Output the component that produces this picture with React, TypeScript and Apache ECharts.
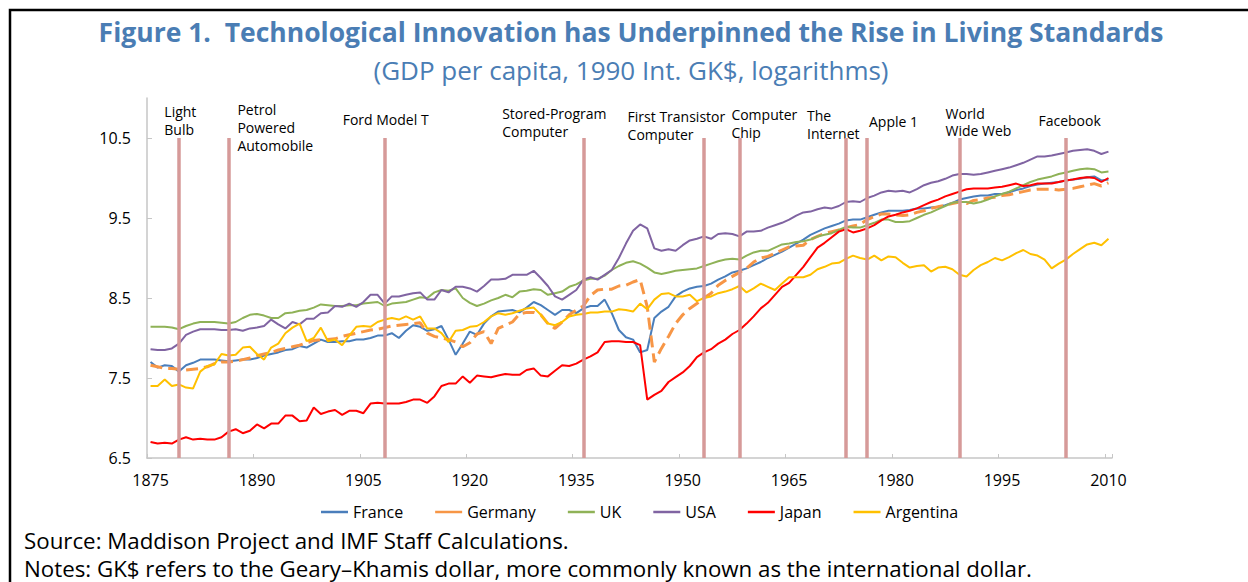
import React, { useEffect, useRef } from "react";
import * as echarts from "echarts";

const years: string[] = Array.from({ length: 136 }, (_, i) => String(1875 + i));

const france = [
  7.70, 7.63, 7.66, 7.65, 7.58, 7.66, 7.69, 7.73, 7.73, 7.73,
  7.72, 7.71, 7.72, 7.73, 7.73, 7.75, 7.78, 7.80, 7.82, 7.85,
  7.86, 7.90, 7.88, 7.93, 7.98, 7.95, 7.95, 7.96, 7.96, 7.98,
  7.98, 8.00, 8.03, 8.03, 8.06, 8.00, 8.09, 8.16, 8.14, 8.09,
  8.11, 8.15, 7.98, 7.79, 7.93, 8.08, 8.04, 8.18, 8.27, 8.33,
  8.34, 8.35, 8.32, 8.38, 8.45, 8.41, 8.35, 8.29, 8.35, 8.35,
  8.31, 8.37, 8.40, 8.40, 8.48, 8.31, 8.10, 8.01, 7.98, 7.82,
  7.85, 8.25, 8.33, 8.39, 8.52, 8.58, 8.62, 8.64, 8.65, 8.68,
  8.73, 8.77, 8.82, 8.84, 8.87, 8.91, 8.95, 9.00, 9.04, 9.08,
  9.13, 9.18, 9.23, 9.29, 9.33, 9.37, 9.40, 9.43, 9.47, 9.48,
  9.48, 9.51, 9.54, 9.57, 9.59, 9.59, 9.59, 9.60, 9.62, 9.62,
  9.63, 9.64, 9.66, 9.69, 9.73, 9.75, 9.77, 9.78, 9.78, 9.80,
  9.80, 9.82, 9.85, 9.87, 9.90, 9.92, 9.93, 9.94, 9.95, 9.97,
  9.98, 9.99, 10.01, 10.02, 9.97, 9.98,
];

const germany = [
  7.66, 7.64, 7.62, 7.62, 7.61, 7.60, 7.61, 7.62, 7.64, 7.68,
  7.70, 7.70, 7.71, 7.73, 7.75, 7.78, 7.80, 7.82, 7.85, 7.87,
  7.89, 7.91, 7.94, 7.97, 7.98, 7.98, 7.99, 8.02, 8.04, 8.06,
  8.08, 8.10, 8.11, 8.13, 8.15, 8.16, 8.17, 8.18, 8.19, 8.06,
  8.02, 8.00, 7.98, 7.95, 7.89, 7.94, 8.05, 8.08, 7.93, 8.12,
  8.16, 8.20, 8.30, 8.32, 8.32, 8.29, 8.18, 8.12, 8.20, 8.29,
  8.35, 8.40, 8.53, 8.60, 8.61, 8.61, 8.65, 8.66, 8.70, 8.73,
  8.39, 7.70, 7.87, 8.02, 8.18, 8.29, 8.37, 8.43, 8.50, 8.56,
  8.66, 8.72, 8.77, 8.82, 8.87, 8.95, 9.00, 9.02, 9.06, 9.10,
  9.14, 9.15, 9.16, 9.23, 9.27, 9.31, 9.33, 9.35, 9.38, 9.40,
  9.42, 9.48, 9.52, 9.55, 9.55, 9.54, 9.53, 9.54, 9.57, 9.59,
  9.62, 9.64, 9.66, 9.68, 9.70, 9.68, 9.72, 9.73, 9.75, 9.76,
  9.78, 9.79, 9.81, 9.83, 9.85, 9.86, 9.86, 9.86, 9.85, 9.86,
  9.87, 9.89, 9.91, 9.93, 9.90, 9.94,
];

const uk = [
  8.14, 8.14, 8.14, 8.13, 8.11, 8.15, 8.18, 8.20, 8.20, 8.20,
  8.19, 8.18, 8.20, 8.25, 8.29, 8.30, 8.28, 8.25, 8.25, 8.31,
  8.32, 8.34, 8.35, 8.38, 8.42, 8.41, 8.40, 8.40, 8.41, 8.41,
  8.43, 8.44, 8.45, 8.40, 8.43, 8.44, 8.45, 8.48, 8.51, 8.50,
  8.57, 8.60, 8.59, 8.62, 8.50, 8.44, 8.40, 8.43, 8.47, 8.50,
  8.54, 8.51, 8.58, 8.59, 8.61, 8.60, 8.54, 8.56, 8.58, 8.64,
  8.67, 8.72, 8.74, 8.74, 8.78, 8.85, 8.90, 8.94, 8.96, 8.93,
  8.88, 8.82, 8.80, 8.82, 8.84, 8.85, 8.86, 8.87, 8.90, 8.93,
  8.96, 8.98, 8.99, 8.98, 9.03, 9.07, 9.09, 9.09, 9.13, 9.17,
  9.18, 9.20, 9.21, 9.23, 9.27, 9.29, 9.31, 9.35, 9.39, 9.38,
  9.38, 9.41, 9.44, 9.48, 9.48, 9.45, 9.45, 9.46, 9.50, 9.54,
  9.57, 9.61, 9.65, 9.69, 9.70, 9.70, 9.68, 9.70, 9.73, 9.77,
  9.80, 9.83, 9.87, 9.91, 9.95, 9.98, 10.00, 10.02, 10.05, 10.07,
  10.09, 10.11, 10.12, 10.11, 10.07, 10.08,
];

const usa = [
  7.86, 7.85, 7.85, 7.87, 7.93, 8.04, 8.08, 8.11, 8.11, 8.11,
  8.10, 8.10, 8.11, 8.09, 8.12, 8.13, 8.15, 8.23, 8.17, 8.12,
  8.20, 8.17, 8.24, 8.24, 8.31, 8.32, 8.40, 8.39, 8.43, 8.39,
  8.45, 8.54, 8.54, 8.43, 8.52, 8.52, 8.54, 8.56, 8.57, 8.48,
  8.48, 8.60, 8.57, 8.64, 8.64, 8.62, 8.58, 8.65, 8.73, 8.73,
  8.74, 8.79, 8.79, 8.79, 8.84, 8.75, 8.65, 8.52, 8.48, 8.54,
  8.60, 8.73, 8.76, 8.73, 8.79, 8.85, 9.00, 9.18, 9.34, 9.42,
  9.37, 9.12, 9.09, 9.11, 9.09, 9.16, 9.22, 9.24, 9.27, 9.24,
  9.30, 9.31, 9.30, 9.27, 9.33, 9.33, 9.34, 9.38, 9.41, 9.44,
  9.48, 9.53, 9.57, 9.58, 9.61, 9.63, 9.62, 9.65, 9.70, 9.71,
  9.70, 9.75, 9.78, 9.82, 9.84, 9.83, 9.84, 9.82, 9.86, 9.91,
  9.94, 9.96, 9.99, 10.03, 10.05, 10.05, 10.04, 10.05, 10.07, 10.09,
  10.11, 10.13, 10.16, 10.19, 10.23, 10.27, 10.27, 10.28, 10.30, 10.32,
  10.34, 10.35, 10.36, 10.34, 10.30, 10.33,
];

const japan = [
  6.70, 6.68, 6.69, 6.68, 6.73, 6.76, 6.73, 6.74, 6.73, 6.73,
  6.76, 6.83, 6.86, 6.81, 6.84, 6.92, 6.87, 6.93, 6.93, 7.03,
  7.03, 6.96, 6.97, 7.13, 7.05, 7.08, 7.10, 7.04, 7.09, 7.09,
  7.06, 7.18, 7.19, 7.18, 7.18, 7.18, 7.20, 7.23, 7.23, 7.19,
  7.27, 7.40, 7.43, 7.43, 7.52, 7.44, 7.53, 7.52, 7.51, 7.53,
  7.55, 7.54, 7.54, 7.60, 7.62, 7.53, 7.52, 7.59, 7.66, 7.65,
  7.68, 7.73, 7.77, 7.82, 7.95, 7.96, 7.96, 7.95, 7.95, 7.91,
  7.23, 7.29, 7.34, 7.45, 7.51, 7.57, 7.65, 7.76, 7.82, 7.86,
  7.93, 7.98, 8.05, 8.10, 8.18, 8.27, 8.37, 8.44, 8.54, 8.64,
  8.69, 8.79, 8.89, 9.01, 9.13, 9.19, 9.26, 9.33, 9.36, 9.32,
  9.34, 9.37, 9.41, 9.47, 9.52, 9.54, 9.57, 9.59, 9.62, 9.66,
  9.70, 9.73, 9.77, 9.80, 9.83, 9.86, 9.87, 9.87, 9.87, 9.88,
  9.89, 9.91, 9.93, 9.90, 9.91, 9.93, 9.93, 9.93, 9.95, 9.97,
  9.98, 10.00, 10.01, 10.00, 9.95, 10.00,
];

const argentina = [
  7.40, 7.40, 7.48, 7.40, 7.42, 7.38, 7.37, 7.58, 7.65, 7.67,
  7.80, 7.78, 7.79, 7.88, 7.89, 7.80, 7.73, 7.88, 7.93, 8.06,
  8.13, 8.18, 7.96, 8.00, 8.13, 7.96, 7.98, 7.91, 8.03, 8.14,
  8.15, 8.14, 8.20, 8.23, 8.25, 8.23, 8.27, 8.23, 8.27, 8.12,
  8.12, 8.06, 7.95, 8.09, 8.10, 8.14, 8.15, 8.20, 8.27, 8.31,
  8.29, 8.31, 8.34, 8.37, 8.38, 8.29, 8.18, 8.16, 8.20, 8.27,
  8.29, 8.30, 8.32, 8.32, 8.33, 8.33, 8.36, 8.35, 8.33, 8.43,
  8.36, 8.48, 8.55, 8.56, 8.52, 8.52, 8.54, 8.46, 8.50, 8.52,
  8.56, 8.58, 8.61, 8.65, 8.57, 8.62, 8.68, 8.64, 8.60, 8.68,
  8.76, 8.76, 8.76, 8.79, 8.86, 8.89, 8.93, 8.94, 8.99, 9.03,
  9.00, 8.98, 9.03, 8.97, 9.02, 9.01, 8.94, 8.88, 8.90, 8.91,
  8.83, 8.88, 8.89, 8.86, 8.79, 8.77, 8.85, 8.91, 8.95, 9.00,
  8.97, 9.01, 9.06, 9.10, 9.05, 9.03, 8.98, 8.87, 8.93, 8.98,
  9.05, 9.11, 9.17, 9.19, 9.16, 9.24,
];

const seriesNames = ["France", "Germany", "UK", "USA", "Japan", "Argentina"];
const seriesColors = ["#4a7ebb", "#f79646", "#8fb257", "#8064a2", "#ff0000", "#ffc000"];

const eventYears = [1879, 1886, 1908, 1936, 1953, 1958, 1973, 1976, 1989, 2004];
const eventNames = [
  "Light\nBulb",
  "Petrol\nPowered\nAutomobile",
  "Ford Model T",
  "Stored-Program\nComputer",
  "First Transistor\nComputer",
  "Computer\nChip",
  "The\nInternet",
  "Apple 1",
  "World\nWide Web",
  "Facebook",
];
const eventLineTop = 10.5;
const yMin = 6.5;
const yMax = 11;
const yTickValues = [6.5, 7.5, 8.5, 9.5, 10.5];

// layout: offsets (px) of each event caption from the top of its event line
const captionOffsets: [number, number][] = [
  [-14.6, -35], [8.8, -37.5], [-42, -27.7], [-81.2, -33.4], [-76.4, -30.4],
  [-8.1, -32.1], [-38.9, -31], [1.8, -25.2], [-13.9, -33.8], [-27.4, -26.6],
];

const FONT = "'Open Sans', 'Noto Sans', sans-serif";

export default function App() {
  const ref = useRef<HTMLDivElement>(null);

  useEffect(() => {
    document.body.style.margin = "0";
    const chart = echarts.init(ref.current!, null, { renderer: "svg" });
    const data = [france, germany, uk, usa, japan, argentina];

    const lineSeries = seriesNames.map((name, i) => ({
      type: "line",
      name,
      data: data[i],
      symbol: "none",
      showSymbol: false,
      z: 3,
      lineStyle:
        name === "Germany"
          ? { color: seriesColors[i], width: 3, type: [12, 6] }
          : { color: seriesColors[i], width: 2 },
      itemStyle: { color: seriesColors[i] },
    }));

    const eventSeries = {
      type: "line",
      name: "events",
      data: [],
      z: 1,
      silent: true,
      markLine: {
        silent: true,
        symbol: ["none", "none"],
        label: { show: false },
        animation: false,
        lineStyle: { color: "#d69a99", width: 3.5, type: "solid" },
        data: eventYears.map((y) => {
          const idx = years.indexOf(String(y));
          return [{ coord: [idx, yMin] }, { coord: [idx, eventLineTop] }];
        }),
      },
    };

    chart.setOption({
      animation: false,
      grid: { left: 147, top: 98, right: 136, bottom: 124, containLabel: false },
      xAxis: {
        type: "category",
        data: years,
        boundaryGap: true,
        axisLine: { show: true, onZero: false, lineStyle: { color: "#c6c6c6", width: 1.5 } },
        axisTick: { show: true, inside: true, interval: 14, length: 4, lineStyle: { color: "#c6c6c6" } },
        axisLabel: { interval: 14, fontSize: 16, color: "#000", fontFamily: FONT, margin: 14 },
        splitLine: { show: false },
      },
      yAxis: {
        type: "value",
        min: yMin,
        max: yMax,
        axisLine: { show: true, lineStyle: { color: "#c6c6c6", width: 1.5 } },
        axisTick: { show: true, inside: true, length: 5, customValues: yTickValues, lineStyle: { color: "#c6c6c6" } },
        axisLabel: { customValues: yTickValues, fontSize: 16, color: "#000", fontFamily: FONT, margin: 16 },
        splitLine: { show: false },
      },
      legend: {
        left: 316,
        top: 499,
        icon: "rect",
        itemWidth: 27,
        itemHeight: 2.5,
        itemGap: 32,
        textStyle: { fontSize: 16, color: "#000", fontFamily: FONT },
        data: seriesNames,
      },
      series: [eventSeries, ...lineSeries],
      graphic: {
        elements: [
          {
            id: "border",
            type: "polyline",
            shape: { points: [[10, 582], [10, 10], [1248, 10]] },
            style: { stroke: "#000", lineWidth: 2.5, fill: null },
          },
          {
            id: "title",
            type: "text",
            x: 631,
            y: 32,
            style: {
              text: "Figure 1.  Technological Innovation has Underpinned the Rise in Living Standards",
              fontSize: 26.5,
              fontWeight: "bold",
              fontFamily: FONT,
              fill: "#4a7db4",
              align: "center",
              verticalAlign: "middle",
            },
          },
          {
            id: "subtitle",
            type: "text",
            x: 631,
            y: 70,
            style: {
              text: "(GDP per capita, 1990 Int. GK$, logarithms)",
              fontSize: 26,
              fontFamily: FONT,
              fill: "#4a7db4",
              align: "center",
              verticalAlign: "middle",
            },
          },
          {
            id: "source",
            type: "text",
            x: 24,
            y: 540,
            style: {
              text: "Source: Maddison Project and IMF Staff Calculations.",
              fontSize: 22.3,
              fontFamily: FONT,
              fill: "#000",
              align: "left",
              verticalAlign: "middle",
            },
          },
          {
            id: "notes",
            type: "text",
            x: 24,
            y: 568,
            style: {
              text: "Notes: GK$ refers to the Geary\u2013Khamis dollar, more commonly known as the international dollar.",
              fontSize: 22.3,
              fontFamily: FONT,
              fill: "#000",
              align: "left",
              verticalAlign: "middle",
            },
          },
        ],
      },
    });

    const captions = eventYears.map((y, i) => {
      const idx = years.indexOf(String(y));
      const p = chart.convertToPixel({ gridIndex: 0 }, [idx, eventLineTop]) as number[];
      const [dx, dy] = captionOffsets[i];
      return {
        id: "evt" + i,
        type: "text",
        x: p[0] + dx,
        y: p[1] + dy,
        style: {
          text: eventNames[i],
          fontSize: 14,
          fontFamily: FONT,
          fill: "#000",
          lineHeight: 17.8,
          align: "left",
          verticalAlign: "top",
        },
      };
    });
    chart.setOption({ graphic: { elements: captions } });

    return () => chart.dispose();
  }, []);

  return <div ref={ref} style={{ width: 1248, height: 582 }} />;
}
